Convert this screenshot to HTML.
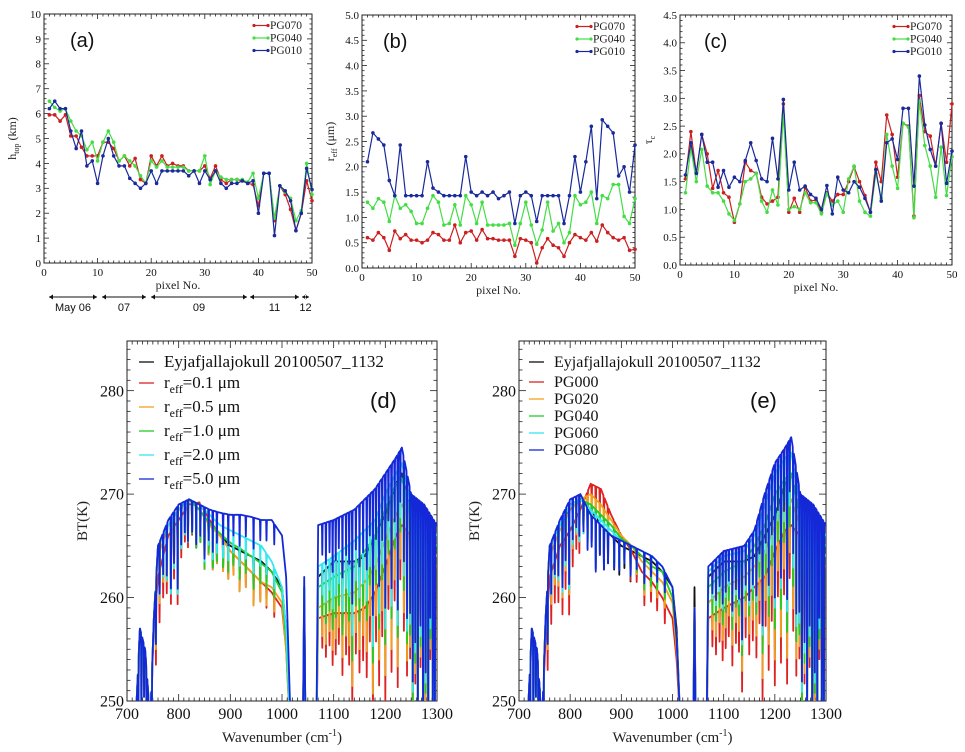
<!DOCTYPE html>
<html><head><meta charset="utf-8">
<style>
html,body{margin:0;padding:0;background:#fff;width:965px;height:752px;overflow:hidden;}
svg{display:block;font-family:"Liberation Serif",serif;}
.lbl{font-family:"Liberation Sans","DejaVu Sans",sans-serif;}
</style></head>
<body>
<svg id="fig" width="965" height="752" viewBox="0 0 965 752" xmlns="http://www.w3.org/2000/svg">
<defs>
<clipPath id="clipD"><rect x="127" y="341" width="310" height="360"/></clipPath>
<clipPath id="clipE"><rect x="519" y="341" width="307" height="360"/></clipPath>
</defs>
<g id="root"></g>
</svg>
<script>
// ---------- Top panel data (pixel No. 1..50) ----------
const pixels = Array.from({length:50},(_, i)=>i+1);
const htopPG070 = [5.95,5.95,5.7,5.95,5.1,5.1,4.65,4.3,4.3,4.3,4.85,4.85,4.6,4.1,4.3,3.9,4.2,3.35,3.2,4.3,3.9,4.3,3.9,4.0,3.9,3.9,3.7,3.7,3.7,3.9,3.4,3.9,3.35,3.2,3.35,3.35,3.3,3.2,3.15,2.3,3.6,3.6,1.7,3.1,2.75,2.15,1.3,2.0,3.3,2.5];
const htopPG040 = [6.5,6.25,6.1,6.2,5.7,5.3,5.1,4.55,4.85,4.1,4.85,5.3,4.85,4.1,4.3,4.1,3.9,3.5,3.2,4.1,3.85,4.1,3.85,3.85,3.85,3.85,3.7,3.7,3.7,4.3,3.15,3.7,3.45,3.35,3.35,3.35,3.35,3.25,3.6,2.6,3.6,3.6,1.8,3.1,2.85,2.6,1.7,2.1,4.0,2.75];
const htopPG010 = [6.2,6.5,6.2,6.2,5.3,4.6,5.3,3.9,4.1,3.2,4.3,5.0,4.3,3.9,3.9,3.4,3.2,3.0,3.2,3.7,3.2,3.7,3.7,3.7,3.7,3.7,3.5,3.7,3.2,3.7,3.35,3.7,3.2,3.0,3.2,3.2,3.3,3.2,3.3,2.0,3.6,3.6,1.1,3.1,2.9,2.5,1.3,2.0,3.8,2.95];
const reffPG070 = [0.6,0.55,0.7,0.6,0.35,0.73,0.58,0.66,0.55,0.55,0.5,0.55,0.7,0.66,0.55,0.55,0.85,0.5,0.7,0.73,0.55,0.76,0.58,0.58,0.55,0.55,0.55,0.23,0.58,0.55,0.5,0.1,0.4,0.58,0.45,0.4,0.23,0.5,0.66,0.6,0.55,0.7,0.53,0.85,0.7,0.6,0.55,0.6,0.35,0.37];
const reffPG040 = [1.3,1.18,1.37,1.3,0.92,1.43,1.18,1.25,1.12,0.88,0.88,1.18,1.43,1.3,0.85,0.88,1.25,0.85,1.43,1.25,0.88,1.3,0.85,0.85,0.85,0.85,0.88,0.45,0.88,1.3,0.85,0.47,0.75,1.3,0.73,0.88,0.5,0.7,1.43,1.25,1.3,1.5,0.88,1.43,1.37,1.65,1.65,1.02,0.88,1.37];
const reffPG010 = [2.1,2.67,2.55,2.43,1.73,1.43,2.43,1.43,1.43,1.43,1.43,2.1,1.58,1.5,1.43,1.43,1.43,1.43,2.2,1.5,1.43,1.5,1.43,1.5,1.37,1.43,1.5,0.88,1.43,1.5,1.43,0.92,1.43,1.43,1.43,1.43,0.88,1.43,2.2,1.5,2.1,2.8,1.37,2.93,2.8,2.67,1.82,2.0,1.5,2.43];
const tauPG070 = [1.55,2.4,1.65,2.35,2.0,1.38,1.7,1.3,1.22,0.77,1.1,1.85,1.7,1.65,1.22,1.1,1.15,1.22,2.9,0.95,1.2,0.95,1.4,1.15,1.17,0.95,1.3,1.15,1.27,1.27,1.5,1.77,1.5,1.25,0.95,1.85,1.5,2.7,2.35,1.58,2.55,2.5,0.88,3.05,2.4,2.32,1.78,2.55,1.85,2.9];
const tauPG040 = [1.3,2.1,1.5,2.08,1.42,1.3,1.3,1.15,0.92,0.8,1.1,1.5,1.55,1.65,1.15,0.95,1.35,1.08,2.7,1.0,1.05,1.0,1.3,1.12,1.12,0.92,1.28,1.08,1.15,0.95,1.55,1.78,1.15,0.95,0.88,1.65,1.2,2.35,1.78,1.38,2.55,2.48,0.85,2.95,2.15,1.78,1.22,2.12,1.25,1.95];
const tauPG010 = [1.62,2.2,1.65,2.35,1.85,1.85,1.4,1.7,1.4,1.58,1.5,1.88,2.2,1.88,1.55,1.5,2.28,1.55,2.98,1.35,1.85,1.35,1.42,1.27,1.2,1.0,1.43,0.92,1.58,1.35,1.3,1.5,1.4,1.2,0.95,1.72,1.15,2.2,2.27,1.9,2.82,2.82,1.42,3.4,2.52,2.08,1.78,2.55,1.47,2.05];
const topLegend = ["PG070","PG040","PG010"];

// ---------- Spectra data ----------
const wnAnchors = [715,725,735,745,752,760,780,800,820,840,860,880,900,920,940,960,980,1000,1008,1016,1040,1043,1046,1066,1070,1100,1140,1160,1180,1200,1220,1232,1250,1275,1300];
const btObs   = [246,257,255,248,258,265,267,268.5,269.5,268.5,267,266,265,264.5,264,263.5,262.5,261,257,247,244,261,244,244,262,263.5,263.5,264,266,268,271,272,268,267,265];
const btR01   = [246,257,255,248,257,262,266,267.5,269,269.2,267.5,266,264.5,263.5,262.5,261.5,260.5,259,255,247,244,260,244,244,258,258.5,258.5,259,260.5,263,266,267,266,265,263];
const btR05   = [246,257,255,248,258,264,267,268.5,269.5,268.5,267,266,264.5,263.5,262.5,261.5,261,259.5,255,247,244,260,244,244,259,260,260.5,261.5,263,265.5,268,269,267,266,264];
const btR10   = [246,257,255,248,258,265,267,268.5,269.5,268.5,267.2,266.2,265.3,264.7,264,263.3,262.5,260.5,256,247,244,261,244,244,261,262,263,264.5,266,268.5,271,271.5,268,267,265];
const btR20   = [246,257,255,248,258,265,267,268.5,269.5,269,268,267,266.5,266,265.5,265,263.5,261,257,247,244,261,244,244,263,264,265.5,266.5,267.5,270,272,273,269,268,266];
const btR50   = [246,257,255,248,258,265,267.5,269,269.5,269,268.5,268.2,268,268,267.8,267.5,267.5,266,262,249,244,262,244,244,267,267.5,268.5,269.5,270.5,272,273.5,274.5,270,269,267];
const btPG000 = [246,257,255,248,256,262,265,266.5,268.5,271,270.5,268,266,264.5,262.5,261.5,260,258,254,247,244,259,244,244,258,259,260,261,262,264.5,266.5,267,266,265,263];
const btPG020 = [246,257,255,248,258,264,266.5,268.5,269.5,270,269,267.5,266,265,263.5,262.5,261.5,259.5,255,247,244,259,244,244,259.5,261,262,263,264.5,267,269,269.5,267,266,264];
const btPG040 = [246,257,255,248,258,265,267,269,269.5,269,268,267,265.7,265,264,263,262.5,260,256,247,244,259,244,244,261,262.5,263.5,265,267,270,271.5,272,268,267,265];
const btPG060 = [246,257,255,248,258,265,267,269,269.5,268.5,267.5,266.5,265.5,265,264.5,264,263,261,256,247,244,259,244,244,262.5,264,264.5,266,269,272,273.5,274,269,268,266];
const btPG080 = [246,257,255,248,258,265,267.5,269.5,270,268,267,266,265.5,265,264.5,264,263,261,256,247,244,259,244,244,263,264.5,265,266.5,270,273,274.5,275.5,270,269,267];
const lineWn = [722,728,733,738,742,748,756,763,770,777,785,791,798,805,812,818,826,834,842,850,858,866,874,886,896,906,918,930,945,958,970,985,1078,1085,1092,1098,1104,1110,1117,1124,1130,1136,1143,1150,1157,1164,1170,1176,1182,1188,1194,1200,1206,1212,1218,1224,1229,1236,1242,1248,1253,1258,1263,1268,1273,1278,1283,1287,1292,1296];
const lineDepth = [6,8,5,10,6,5,6,5,4,5,7,5,8,4,3,4,3,4,3,5,3,4,3,3,3,2,3,2,3,2,2,2,3,4,3,5,4,3,6,4,5,9,4,6,5,7,4,12,5,10,6,13,5,12,6,15,5,10,14,12,18,14,20,12,22,16,22,10,20,18];

const NS="http://www.w3.org/2000/svg";
const root=document.getElementById('root');
function mk(tag,attrs,parent){const e=document.createElementNS(NS,tag);for(const k in attrs)e.setAttribute(k,attrs[k]);(parent||root).appendChild(e);return e;}

function axes(p){
  const g=mk('g',{});
  
  
  const sx=v=>p.x0+(v-p.xmin)/(p.xmax-p.xmin)*(p.x1-p.x0);
  const sy=v=>p.y1-(v-p.ymin)/(p.ymax-p.ymin)*(p.y1-p.y0);
  const eps=1e-9;
  for(let v=p.xmin;v<=p.xmax+eps;v+=p.xMinor){
    const maj=Math.abs(Math.round(v/p.xMajor)*p.xMajor-v)<1e-6;const L=maj?p.tl:p.tl/2;const X=sx(v);
    mk('line',{x1:X,y1:p.y1,x2:X,y2:p.y1-L,stroke:'#222','stroke-width':0.8},g);
    mk('line',{x1:X,y1:p.y0,x2:X,y2:p.y0+L,stroke:'#222','stroke-width':0.8},g);
    if(maj){const t=mk('text',{x:X,y:p.y1+p.fs+2,'text-anchor':'middle','font-size':p.fs,fill:'#111'},g);t.textContent=p.xfmt(v);
      
      }
  }
  for(let v=p.ymin;v<=p.ymax+eps;v+=p.yMinor){
    const maj=Math.abs(Math.round(v/p.yMajor)*p.yMajor-v)<1e-6;const L=maj?p.tl:p.tl/2;const Y=sy(v);
    mk('line',{x1:p.x0,y1:Y,x2:p.x0+L,y2:Y,stroke:'#222','stroke-width':0.8},g);
    mk('line',{x1:p.x1,y1:Y,x2:p.x1-L,y2:Y,stroke:'#222','stroke-width':0.8},g);
    if(maj){const t=mk('text',{x:p.x0-3,y:Y+p.fs*0.35,'text-anchor':'end','font-size':p.fs,fill:'#111'},g);t.textContent=p.yfmt(v);
      
      }
  }
  mk('rect',{x:p.x0,y:p.y0,width:p.x1-p.x0,height:p.y1-p.y0,fill:'none',stroke:'#222','stroke-width':1},g);
  return {sx,sy};
}

const topColors=['#cc1f1f','#44dd44','#1a2a9a'];
function topPanel(name,box,ymax,yMinor,yfmt,series,letter,letterX,ylabel){
  const a=axes({name,x0:box[0],x1:box[1],y0:box[2],y1:box[3],xmin:0,xmax:50,ymin:0,ymax:ymax,xMajor:10,xMinor:1,yMajor:ymax>5?1:0.5,yMinor:yMinor,fs:11,tl:5,xfmt:v=>String(Math.round(v)),yfmt:yfmt});
  series.forEach((s,k)=>{
    const g=mk('g',{});
    
    
    mk('polyline',{points:s.map((v,i)=>a.sx(pixels[i])+','+a.sy(v)).join(' '),fill:'none',stroke:topColors[k],'stroke-width':1.2},g);
    s.forEach((v,i)=>{const c=mk('circle',{cx:a.sx(pixels[i]),cy:a.sy(v),r:1.8,fill:topColors[k]},g);
      
      });
  });
  topLegend.forEach((n,k)=>{
    const y=box[2]+15+k*12.5, x=box[1]-58;
    const g=mk('g',{});
    
    
    mk('line',{x1:x,y1:y-3.5,x2:x+14,y2:y-3.5,stroke:topColors[k],'stroke-width':1.2},g);
    mk('circle',{cx:x,cy:y-3.5,r:1.6,fill:topColors[k]},g);mk('circle',{cx:x+14,cy:y-3.5,r:1.6,fill:topColors[k]},g);
    const t=mk('text',{x:x+16,y:y,'font-size':11.5,fill:'#222'},g);t.textContent=n;
  });
  const pl=mk('text',{x:letterX,y:box[2]+33,'font-size':20,fill:'#111',class:'lbl'});pl.textContent=letter;
  
  
  const xl=mk('text',{x:(box[0]+box[1])/2,y:box[3]+26,'text-anchor':'middle','font-size':12,fill:'#222'});xl.textContent='pixel No.';
  
  
  const yl=mk('text',{x:0,y:0,'text-anchor':'middle','font-size':12,fill:'#222',transform:`translate(${box[0]-28},${(box[2]+box[3])/2}) rotate(-90)`});yl.innerHTML=ylabel;
  
  
}
topPanel('panel-a',[44,312,14,263],10,0.2,v=>String(Math.round(v)),[htopPG070,htopPG040,htopPG010],'(a)',70,'h<tspan font-size="8" dy="3">top</tspan><tspan dy="-3"> (km)</tspan>');
topPanel('panel-b',[362,635,15,268],5,0.1,v=>v.toFixed(1),[reffPG070,reffPG040,reffPG010],'(b)',383,'r<tspan font-size="8" dy="3">eff</tspan><tspan dy="-3"> (μm)</tspan>');
topPanel('panel-c',[680,952,15,265],4.5,0.1,v=>v.toFixed(1),[tauPG070,tauPG040,tauPG010],'(c)',704,'τ<tspan font-size="8" dy="3">c</tspan>');

const dates=[['May 06',49,97],['07',102,146],['09',151,247],['11',250,299],['12',302,309]];
dates.forEach(d=>{
  const g=mk('g',{});
  
  
  mk('line',{x1:d[1],y1:297,x2:d[2],y2:297,stroke:'#111','stroke-width':1},g);
  mk('path',{d:`M${d[1]},297 l4,-2.5 v5 z M${d[2]},297 l-4,-2.5 v5 z`,fill:'#111'},g);
  const t=mk('text',{x:(d[1]+d[2])/2,y:311,'text-anchor':'middle','font-size':11,fill:'#111',class:'lbl'},g);t.textContent=d[0];
});

// ---------- Spectra ----------
function interp(x){let i=0;while(i<wnAnchors.length-2&&x>wnAnchors[i+1])i++;const x0=wnAnchors[i],x1=wnAnchors[i+1];return [i,(x-x0)/(x1-x0)];}
function spectrumPath(vals,a){
  let pts=[];
  for(let w=712;w<=1302;w+=0.25){
    const [i,f]=interp(w);let v=vals[i]+(vals[i+1]-vals[i])*Math.max(0,Math.min(1,f));
    for(let k=0;k<lineWn.length;k++){const d=(w-lineWn[k])/0.45;if(Math.abs(d)<4)v-=lineDepth[k]*Math.exp(-d*d);}
    pts.push(a.sx(w).toFixed(2)+','+a.sy(Math.max(v,245)).toFixed(2));
  }
  return pts.join(' ');
}
function specPanel(name,box,clip,series,colors,names,legX,rowsY,fsLeg,letterX,reff){
  const a=axes({name,x0:box[0],x1:box[1],y0:box[2],y1:box[3],xmin:700,xmax:1300,ymin:250,ymax:284.8,yMajor:10,yMinor:1,xMajor:100,xMinor:10,fs:16,tl:7,xfmt:v=>String(Math.round(v)),yfmt:v=>String(Math.round(v))});
  const g=mk('g',{'clip-path':`url(#${clip})`});
  
  
  series.forEach((s,k)=>{
    const p=mk('polyline',{points:spectrumPath(s,a),fill:'none',stroke:colors[k],'stroke-width':1.8,'stroke-linejoin':'round'},g);
    
    
  });
  names.forEach((n,k)=>{
    const y=rowsY[k];
    const lg=mk('g',{});
    
    
    mk('line',{x1:legX,y1:y-5,x2:legX+15,y2:y-5,stroke:colors[k],'stroke-width':1.3},lg);
    const t=mk('text',{x:legX+25,y:y,'font-size':fsLeg,fill:'#111'},lg);
    if(reff&&k>0){t.innerHTML='r<tspan font-size="'+(fsLeg*0.7)+'" dy="5">eff</tspan><tspan dy="-5">='+n+'</tspan>';}
    else t.textContent=n;
  });
  const pl=mk('text',{x:letterX,y:408,'font-size':22,fill:'#111',class:'lbl'});pl.textContent=name==='panel-d'?'(d)':'(e)';
  
  
  const xl=mk('text',{x:(box[0]+box[1])/2,y:742,'text-anchor':'middle','font-size':15,fill:'#222'});xl.innerHTML='Wavenumber (cm<tspan font-size="10" dy="-6">-1</tspan><tspan dy="6">)</tspan>';
  
  
  const yl=mk('text',{x:0,y:0,'text-anchor':'middle','font-size':15,fill:'#222',transform:`translate(${box[0]-40},${(box[2]+box[3])/2}) rotate(-90)`});yl.textContent='BT(K)';
  
  
}
const specColors=['#111111','#dd2222','#f0a020','#22cc22','#33e8f0','#1428d8'];
specPanel('panel-d',[127,437,341,701],'clipD',[btObs,btR01,btR05,btR10,btR20,btR50],specColors,
  ['Eyjafjallajokull 20100507_1132','0.1 μm','0.5 μm','1.0 μm','2.0 μm','5.0 μm'],139,[367,388,412,436,460,484],17,370,true);
specPanel('panel-e',[519,826,341,701],'clipE',[btObs,btPG000,btPG020,btPG040,btPG060,btPG080],specColors,
  ['Eyjafjallajokull 20100507_1132','PG000','PG020','PG040','PG060','PG080'],529,[367,387,404,421,438,455],16,750,false);
</script>
</body></html>
